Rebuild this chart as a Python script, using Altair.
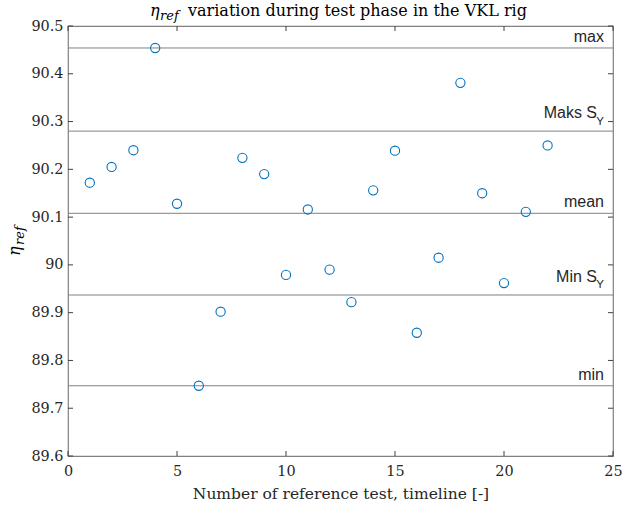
import altair as alt
import pandas as pd

# ---- data ----
tests = list(range(1, 23))
eta = [90.172, 90.205, 90.240, 90.454, 90.128, 89.747, 89.902, 90.224, 90.190, 89.979,
       90.116, 89.990, 89.922, 90.156, 90.239, 89.858, 90.015, 90.381, 90.150, 89.962,
       90.111, 90.250]

line_values = [90.454, 90.280, 90.108, 89.937, 89.747]
line_labels = ["max", "Maks S", "mean", "Min S", "min"]
line_subs = ["", "Y", "", "Y", ""]

y_ticks = [89.6, 89.7, 89.8, 89.9, 90.0, 90.1, 90.2, 90.3, 90.4, 90.5]
x_ticks = [0, 5, 10, 15, 20, 25]

title_main = "variation during test phase in the VKL rig"
x_title = "Number of reference test, timeline [-]"

# ---- layout ----
W, H = 545, 430
SERIF = "DejaVu Serif"
SANS = "Liberation Sans"
FS = 14.4

pts = pd.DataFrame({"test": tests, "eta": eta})
lines = pd.DataFrame({"eta": line_values, "label": line_labels, "sub": line_subs})
plain = lines[lines["sub"] == ""]
subbed = lines[lines["sub"] != ""]
yt = pd.DataFrame({"eta": y_ticks})
xt = pd.DataFrame({"test": x_ticks})
one = pd.DataFrame({"a": [0]})

xscale = alt.Scale(domain=[0, 25], nice=False, zero=False)
yscale = alt.Scale(domain=[89.6, 90.5], nice=False, zero=False)
xaxis = alt.Axis(values=x_ticks, title=x_title, labelPadding=8, titlePadding=9,
                 format="d", labelFlush=False, titleFontSize=15.5)
yaxis = alt.Axis(values=y_ticks, title=None, format="~g", labelPadding=5, labelFlush=False)

X = alt.X("test:Q", scale=xscale, axis=xaxis)
Y = alt.Y("eta:Q", scale=yscale, axis=yaxis)

points = alt.Chart(pts).mark_point(
    shape="circle", filled=False, size=85, color="#0072BD", strokeWidth=1.1, opacity=1
).encode(x=X, y=Y)

reflines = alt.Chart(lines).mark_rule(color="#808080", strokeWidth=1).encode(y=Y)

lab_plain = alt.Chart(plain).mark_text(
    align="right", baseline="alphabetic", font=SANS, fontSize=16, color="#262626", dy=-6
).encode(x=alt.value(W - 9), y=Y, text="label:N")
lab_main = alt.Chart(subbed).mark_text(
    align="right", baseline="alphabetic", font=SANS, fontSize=16, color="#262626", dy=-13
).encode(x=alt.value(W - 16), y=Y, text="label:N")
lab_sub = alt.Chart(subbed).mark_text(
    align="right", baseline="alphabetic", font=SANS, fontSize=11.5, color="#262626", dy=-6.5
).encode(x=alt.value(W - 9), y=Y, text="sub:N")

# inward ticks (MATLAB style), drawn through the scales
tick_col = "#404040"
yt_left = alt.Chart(yt).mark_rule(color=tick_col, strokeWidth=1).encode(
    y=Y, x=alt.value(0), x2=alt.value(5))
yt_right = alt.Chart(yt).mark_rule(color=tick_col, strokeWidth=1).encode(
    y=Y, x=alt.value(W - 5), x2=alt.value(W))
xt_bot = alt.Chart(xt).mark_rule(color=tick_col, strokeWidth=1).encode(
    x=X, y=alt.value(H), y2=alt.value(H - 5))
xt_top = alt.Chart(xt).mark_rule(color=tick_col, strokeWidth=1).encode(
    x=X, y=alt.value(0), y2=alt.value(5))

# title with math-style eta_ref
t_eta = alt.Chart(one).mark_text(
    text="η", font=SERIF, fontStyle="italic", fontSize=16, align="left",
    baseline="alphabetic", color="#000000").encode(x=alt.value(82), y=alt.value(-10))
t_ref = alt.Chart(one).mark_text(
    text="ref", font=SERIF, fontStyle="italic", fontSize=13, align="left",
    baseline="alphabetic", color="#000000").encode(x=alt.value(92), y=alt.value(-6))
t_main = alt.Chart(one).mark_text(
    text=title_main, font=SERIF, fontSize=16, align="left",
    baseline="alphabetic", color="#000000").encode(x=alt.value(120), y=alt.value(-10))

# y axis title eta_ref (rotated)
y_eta = alt.Chart(one).mark_text(
    text="η", font=SERIF, fontStyle="italic", fontSize=16, align="left",
    baseline="middle", angle=270, color="#000000").encode(x=alt.value(-53), y=alt.value(230))
y_ref = alt.Chart(one).mark_text(
    text="ref", font=SERIF, fontStyle="italic", fontSize=13, align="left",
    baseline="middle", angle=270, color="#000000").encode(x=alt.value(-48), y=alt.value(219))

chart = alt.layer(
    reflines, points, lab_plain, lab_main, lab_sub,
    yt_left, yt_right, xt_bot, xt_top,
    t_eta, t_ref, t_main, y_eta, y_ref,
).properties(
    width=W, height=H,
    autosize=alt.AutoSizeParams(type="none"),
    padding={"left": 68, "top": 26, "right": 9, "bottom": 53},
    background="white",
).configure_view(
    stroke="#808080", strokeWidth=1.2
).configure_axis(
    domain=False, ticks=False, grid=False,
    labelFont=SERIF, labelFontSize=FS, labelColor="#262626",
    titleFont=SERIF, titleFontSize=FS, titleFontWeight="normal", titleColor="#262626",
)

chart.save("out.html", embed_options={"renderer": "svg", "actions": False})
